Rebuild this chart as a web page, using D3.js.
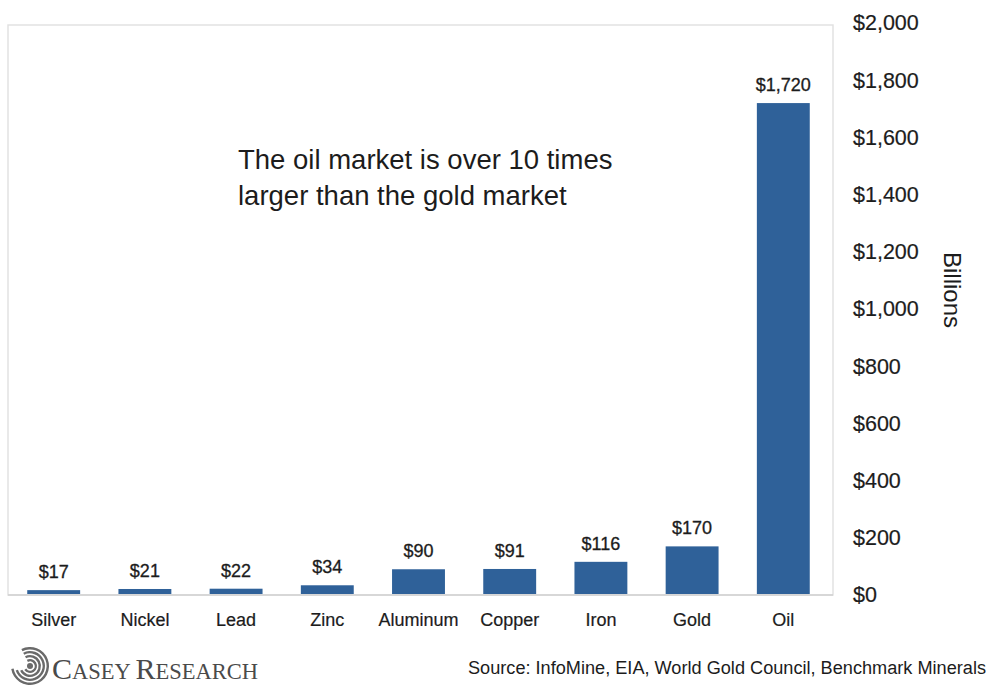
<!DOCTYPE html>
<html><head><meta charset="utf-8">
<script src="https://cdn.jsdelivr.net/npm/d3@7"></script>
<style>body{margin:0;background:#fff}svg{display:block}</style>
</head><body>
<svg id="c" width="986" height="687"></svg>
<script>
const categories = ["Silver","Nickel","Lead","Zinc","Aluminum","Copper","Iron","Gold","Oil"];
const values = [17,21,22,34,90,91,116,170,1720];
const yTicks = [0,200,400,600,800,1000,1200,1400,1600,1800,2000];
const annotation = ["The oil market is over 10 times","larger than the gold market"];
const axisTitle = "Billions";
const source = "Source: InfoMine, EIA, World Gold Council, Benchmark Minerals";

(function(){
const svg = d3.select("#c");
const pL = 8, pR = 833, pT = 23, pB = 595;
const font = "'Liberation Sans', Arial, sans-serif";
const ink = "#1c1c1c";

const x = d3.scaleBand().domain(categories).range([pL + 1, pR - 5]).paddingInner(0.42).paddingOuter(0.2);
const y = d3.scaleLinear().domain([0, 2000]).range([pB, pT]);

// frame
svg.append("rect").attr("x", pL).attr("y", 25).attr("width", pR-pL).attr("height", pB-25)
  .attr("fill", "none").attr("stroke", "#e2e2e2").attr("stroke-width", 1.5);
svg.append("line").attr("x1", pL).attr("x2", pR).attr("y1", pB).attr("y2", pB)
  .attr("stroke", "#d0d0d0").attr("stroke-width", 1.5);

// bars
svg.selectAll("rect.bar").data(values).join("rect").attr("class","bar")
  .attr("x", (d,i) => x(categories[i])).attr("width", x.bandwidth())
  .attr("y", d => y(d)).attr("height", d => y(0) - y(d) - 1)
  .attr("fill", "#2f6199");

// value labels
svg.selectAll("text.val").data(values).join("text").attr("class","val")
  .attr("x", (d,i) => x(categories[i]) + x.bandwidth()/2)
  .attr("y", d => y(d) - 12)
  .attr("text-anchor", "middle").attr("font-family", font).attr("font-size", 18)
  .attr("fill", ink).attr("stroke", ink).attr("stroke-width", 0.3)
  .text(d => "$" + d3.format(",")(d));

// category labels
const xAxis = svg.append("g").attr("transform", `translate(0,${pB})`)
  .call(d3.axisBottom(x).tickSize(0).tickPadding(18));
xAxis.select(".domain").remove();
xAxis.selectAll("text").attr("font-family", font).attr("font-size", 18).attr("fill", ink)
  .attr("stroke", ink).attr("stroke-width", 0.2);

// y axis on right
const yAxis = svg.append("g").attr("transform", `translate(${pR},0)`)
  .call(d3.axisRight(y).tickValues(yTicks).tickSize(0).tickPadding(20).tickFormat(d => "$" + d3.format(",")(d)));
yAxis.select(".domain").remove();
yAxis.selectAll("text").attr("font-family", font).attr("font-size", 21.5).attr("fill", ink)
  .attr("stroke", ink).attr("stroke-width", 0.2);

// axis title
svg.append("text").attr("transform", "translate(944,290) rotate(90)")
  .attr("text-anchor", "middle").attr("font-family", font).attr("font-size", 24).attr("fill", ink)
  .text(axisTitle);

// annotation
svg.append("text").attr("font-family", font).attr("font-size", 27.5).attr("fill", ink)
  .selectAll("tspan").data(annotation).join("tspan")
  .attr("x", 238).attr("y", (d,i) => 169 + i*36).text(d => d);

// source
svg.append("text").attr("x", 986).attr("y", 674).attr("text-anchor", "end")
  .attr("font-family", font).attr("font-size", 18).attr("fill", ink)
  .attr("textLength", 518).attr("lengthAdjust", "spacingAndGlyphs").text(source);

// logo
const lg = svg.append("g").attr("transform", "translate(30,666)");
[19,15,11,7].forEach((r,i) => {
  lg.append("path").attr("d", d3.arc()({innerRadius: r-2.4, outerRadius: r, startAngle: -Math.PI*0.15, endAngle: Math.PI*1.45 - i*0.15}))
    .attr("fill", "#6a6a6a");
});
lg.append("circle").attr("r", 3).attr("fill", "#6a6a6a");
const lt = svg.append("text").attr("x", 52).attr("y", 679).attr("font-family", "'Liberation Serif', 'Times New Roman', serif").attr("fill", "#4a4a4a");
lt.append("tspan").attr("font-size", 30).text("C");
lt.append("tspan").attr("font-size", 22.5).text("ASEY ");
lt.append("tspan").attr("font-size", 30).text("R");
lt.append("tspan").attr("font-size", 22.5).text("ESEARCH");
})();
</script>
</body></html>
